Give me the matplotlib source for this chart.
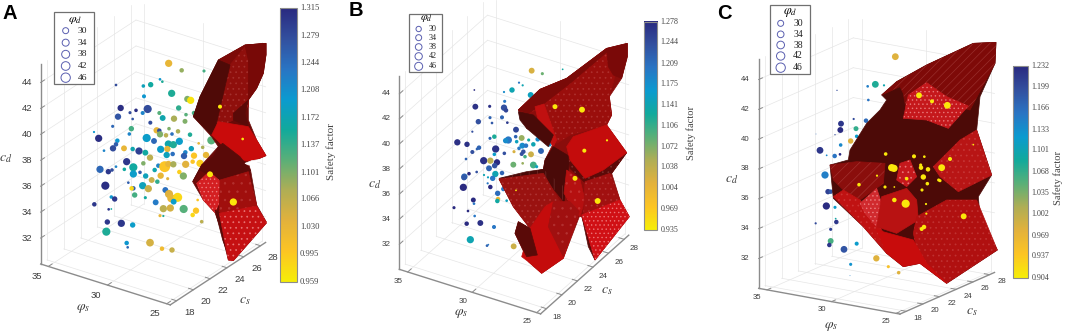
import matplotlib
matplotlib.use("Agg")
import matplotlib.pyplot as plt
from matplotlib import colors
from matplotlib.patches import Polygon, Rectangle
import numpy as np

plt.rcParams['mathtext.fontset'] = 'stix'
plt.rcParams['hatch.linewidth'] = 0.5

# all panel coordinates are in third-of-a-pixel units, y going down
parula_r = colors.LinearSegmentedColormap.from_list('parula_r', [
    '#f6ee08', '#fdc524', '#e3b23c', '#b0ae55', '#5bb078', '#12aa9c',
    '#0b9bd0', '#2a75c4', '#33509f', '#2a2a80'])

z_ticks = [32, 34, 36, 38, 40, 42, 44]
phi_ticks = [35, 30, 25]
cs_ticks = [18, 20, 22, 24, 26, 28]
legend_phi = [30, 34, 38, 42, 46]

# panel A
a_ticks = [1.315, 1.279, 1.244, 1.208, 1.172, 1.137, 1.101, 1.066, 1.030, 0.995, 0.959]
a_x = [506, 545, 612, 348, 480, 487, 452, 430, 515, 432, 562, 572, 362, 408, 443, 428, 390, 354, 536, 478,
       488, 522, 398, 451, 558, 555, 582, 338, 282, 296, 394, 388, 470, 478, 507, 480, 498, 516, 534, 570,
       440, 462, 352, 348, 339, 372, 312, 398, 417, 436, 450, 482, 505, 520, 538, 502, 574, 500, 518, 608,
       596, 556, 552, 582, 618, 634, 380, 400, 430, 400, 420, 437, 464, 475, 494, 505, 520, 557, 578, 600,
       300, 325, 336, 348, 373, 316, 385, 400, 395, 428, 445, 472, 455, 482, 503, 538, 550, 496, 507, 514,
       533, 521, 404, 436, 467, 334, 344, 283, 326, 334, 490, 511, 551, 588, 578, 480, 490, 605, 593, 322,
       364, 398, 319, 380, 383, 450, 486, 516]
a_y = [190, 211, 213, 255, 238, 245, 254, 258, 280, 289, 297, 301, 324, 331, 327, 339, 338, 350, 324, 339,
       354, 356, 357, 368, 344, 364, 339, 379, 396, 415, 386, 402, 391, 392, 386, 403, 406, 402, 394, 404,
       414, 423, 422, 433, 445, 445, 452, 447, 453, 458, 473, 448, 432, 434, 424, 447, 446, 465, 462, 442,
       430, 457, 468, 467, 465, 421, 485, 502, 490, 522, 517, 528, 510, 497, 500, 492, 493, 493, 485, 490,
       508, 515, 510, 500, 508, 557, 548, 565, 565, 557, 566, 545, 540, 527, 536, 516, 528, 570, 582, 595,
       592, 605, 585, 593, 607, 591, 597, 613, 628, 627, 626, 624, 627, 632, 645, 647, 648, 665, 600, 666,
       670, 675, 695, 729, 742, 728, 746, 750]
a_phi = [36, 30, 27, 26, 26, 26, 32, 28, 36, 29, 34, 36, 34, 28, 38, 29, 27, 34, 32, 29,
         33, 34, 26, 29, 28, 31, 30, 27, 25, 36, 32, 28, 34, 30, 28, 34, 30, 28, 30, 30,
         38, 33, 30, 30, 34, 33, 26, 30, 36, 33, 34, 36, 36, 36, 36, 34, 32, 34, 30, 28,
         26, 30, 34, 34, 34, 38, 36, 38, 30, 36, 28, 32, 30, 30, 44, 34, 34, 36, 30, 36,
         36, 32, 28, 26, 28, 38, 26, 30, 30, 36, 36, 30, 33, 34, 27, 30, 36, 33, 38, 38,
         40, 33, 32, 27, 33, 28, 32, 30, 26, 24, 36, 36, 38, 34, 30, 27, 25, 28, 26, 32,
         36, 32, 38, 30, 26, 37, 30, 32]
a_sf = [1.03, 1.09, 1.13, 1.28, 1.20, 1.15, 1.16, 1.18, 1.15, 1.20, 1.10, 0.97, 1.31, 1.31, 1.28, 1.22, 1.28, 1.27, 1.14, 1.12,
        1.17, 1.08, 1.27, 1.28, 1.12, 1.10, 1.13, 1.25, 1.20, 1.31, 1.13, 1.22, 1.03, 1.28, 1.10, 1.10, 1.07, 1.24, 1.08, 1.15,
        1.19, 1.25, 1.20, 1.26, 1.28, 1.03, 1.22, 1.17, 1.29, 1.16, 1.07, 1.19, 1.17, 1.15, 1.19, 1.03, 1.18, 1.18, 1.24, 1.08,
        1.03, 1.22, 1.26, 1.00, 1.03, 1.12, 1.30, 1.16, 1.10, 1.19, 1.26, 1.18, 1.17, 1.22, 1.00, 1.03, 1.08, 1.04, 1.00, 0.99,
        1.25, 1.30, 1.28, 1.22, 1.16, 1.31, 1.26, 1.26, 0.98, 1.18, 1.06, 1.14, 1.06, 1.03, 1.04, 0.99, 1.10, 1.24, 1.04, 1.03,
        0.98, 1.19, 1.13, 1.16, 1.23, 1.20, 1.30, 1.30, 1.30, 1.16, 1.07, 1.05, 1.12, 1.00, 0.98, 1.03, 1.15, 1.07, 1.00, 1.30,
        1.30, 1.19, 1.15, 1.20, 1.25, 1.05, 1.02, 1.06]
a_top_x = [660, 728, 630, 700]
a_top_y = [320, 417, 523, 606]
a_top_phi = [29, 26, 33, 36]
a_surf = [
    [(655, 180), (735, 135), (798, 130), (798, 165), (790, 220), (770, 265), (745, 300), (745, 360), (770, 420), (798, 467), (745, 490), (752, 512), (770, 615), (800, 668), (700, 782), (685, 780), (660, 680), (645, 638), (610, 600), (578, 545), (605, 495), (655, 440), (635, 410), (580, 350), (600, 290), (640, 210)],
    [(655, 180), (735, 135), (798, 130), (798, 165), (745, 290), (690, 200)],
    [(690, 195), (735, 140), (750, 190), (745, 320), (700, 360), (650, 385), (632, 408), (640, 380)],
    [(735, 135), (798, 130), (798, 165), (790, 220), (770, 265), (745, 300), (745, 180)],
    [(655, 180), (690, 195), (640, 410), (580, 350), (600, 290), (640, 210)],
    [(745, 300), (735, 340), (745, 380), (700, 360), (700, 340)],
    [(635, 405), (655, 365), (745, 380), (770, 420), (798, 467), (770, 478), (740, 483), (700, 470), (672, 440)],
    [(578, 545), (605, 495), (640, 470), (655, 440), (668, 430), (720, 470), (752, 512), (660, 545), (600, 510)],
    [(590, 550), (628, 515), (662, 545), (657, 610), (645, 638), (610, 600)],
    [(660, 540), (745, 515), (770, 615), (685, 660), (658, 640)],
    [(645, 630), (660, 640), (690, 780), (668, 720)],
    [(658, 640), (770, 618), (800, 668), (700, 782), (685, 780)],
    [(735, 490), (755, 482), (782, 478), (762, 492), (745, 495)],
]
a_surf_col = ['#6a0a08', '#7c0a08', '#8f0f0c', '#780907', '#4f0a07', '#5a0a08', '#c90b0b', '#5a0a08', '#d41f22', '#a00f0d', '#5a0a08', '#c51012', '#ffffff']
a_surf_hatch = [None, None, '...', None, None, None, None, None, '....', '..', None, '...', None]

# panel B
b_ticks = [1.278, 1.244, 1.209, 1.175, 1.141, 1.106, 1.072, 1.038, 1.004, 0.969, 0.935]
b_x = [575, 607, 668, 537, 548, 516, 492, 403, 494, 572, 406, 449, 492, 498, 486, 450, 415, 456, 502, 397,
       528, 548, 527, 463, 450, 505, 497, 530, 545, 566, 580, 593, 628, 352, 381, 467, 463, 417, 411, 397,
       493, 522, 537, 547, 558, 573, 550, 603, 545, 555, 378, 431, 451, 471, 464, 447, 520, 548, 580, 590,
       410, 387, 373, 372, 466, 458, 432, 444, 486, 487, 443, 451, 370, 490, 473, 400, 402, 474, 472, 500,
       342, 384, 404, 380, 421, 462, 391, 441, 445, 521]
b_y = [212, 221, 208, 248, 256, 270, 276, 270, 304, 285, 320, 319, 323, 331, 352, 353, 365, 369, 368, 395,
       389, 352, 410, 410, 415, 420, 422, 425, 414, 420, 433, 418, 433, 427, 433, 447, 463, 443, 447, 456,
       460, 455, 445, 437, 437, 463, 455, 453, 462, 470, 477, 482, 482, 487, 497, 505, 494, 490, 495, 500,
       516, 521, 530, 533, 522, 535, 525, 532, 519, 540, 550, 561, 562, 567, 580, 600, 611, 597, 603, 602,
       623, 633, 648, 671, 669, 681, 719, 737, 734, 739]
b_phi = [33, 27, 24, 25, 25, 32, 25, 24, 27, 33, 33, 27, 34, 30, 29, 27, 32, 26, 26, 25,
         33, 34, 28, 30, 27, 36, 32, 28, 33, 27, 30, 30, 30, 34, 32, 36, 28, 30, 26, 29,
         28, 27, 28, 33, 30, 33, 30, 33, 29, 28, 26, 36, 34, 34, 32, 33, 33, 26, 35, 27,
         26, 28, 34, 32, 34, 32, 25, 25, 30, 27, 25, 30, 36, 30, 32, 31, 26, 30, 30, 26,
         27, 26, 26, 30, 33, 29, 36, 26, 24, 33]
b_sf = [1.02, 1.08, 1.13, 1.20, 1.14, 1.14, 1.18, 1.28, 1.20, 1.15, 1.27, 1.27, 1.24, 1.25, 1.22, 1.22, 1.24, 1.23, 1.26, 1.24,
        1.25, 1.16, 1.22, 1.12, 1.22, 1.20, 1.18, 1.15, 1.06, 1.13, 1.14, 1.18, 1.17, 1.27, 1.27, 1.27, 1.16, 1.22, 1.22, 1.24,
        1.24, 1.02, 1.20, 1.18, 1.20, 1.03, 1.24, 1.22, 1.24, 1.10, 1.22, 1.27, 1.04, 1.28, 1.24, 1.22, 1.08, 1.06, 1.10, 1.15,
        1.24, 1.28, 1.22, 1.23, 1.14, 1.20, 1.14, 1.15, 1.22, 1.25, 1.20, 1.28, 1.30, 1.20, 1.21, 1.30, 1.20, 1.00, 1.13, 1.15,
        1.31, 1.28, 1.20, 1.30, 1.27, 1.20, 1.14, 1.22, 1.20, 1.03]
b_top_x = [645, 726, 801, 733, 705, 773, 528]
b_top_y = [320, 329, 421, 452, 535, 603, 571]
b_top_phi = [31, 33, 25, 29, 31, 33, 24]
b_surf = [
    [(535, 330), (600, 268), (680, 235), (800, 145), (862, 130), (862, 170), (845, 235), (808, 290), (815, 345), (800, 375), (860, 458), (815, 520), (840, 600), (868, 650), (765, 780), (725, 650), (718, 650), (670, 775), (605, 820), (565, 785), (525, 700), (535, 665), (570, 685), (520, 620), (477, 537), (610, 508), (615, 480), (640, 430), (560, 385)],
    [(535, 330), (600, 268), (680, 235), (800, 145), (835, 190), (808, 290), (815, 345), (800, 375), (690, 405), (650, 430), (610, 320), (565, 340)],
    [(535, 330), (600, 268), (680, 235), (800, 145), (802, 155), (690, 250), (610, 312), (565, 340)],
    [(800, 145), (862, 130), (862, 170), (845, 235), (820, 225), (805, 200)],
    [(585, 320), (612, 312), (650, 420), (640, 440), (600, 385)],
    [(535, 335), (580, 345), (640, 405), (625, 440), (560, 385), (540, 360)],
    [(640, 440), (690, 470), (672, 605), (610, 510), (615, 480)],
    [(685, 470), (735, 535), (860, 458), (815, 520), (735, 548), (690, 505)],
    [(680, 440), (700, 410), (800, 375), (860, 458), (790, 510), (735, 535), (690, 480)],
    [(477, 535), (560, 515), (610, 508), (672, 560), (672, 605), (610, 530)],
    [(477, 537), (610, 520), (660, 605), (615, 620), (570, 685), (520, 620)],
    [(680, 510), (720, 540), (735, 600), (720, 650), (690, 610), (672, 580)],
    [(735, 545), (810, 520), (840, 600), (730, 650)],
    [(725, 645), (765, 780), (745, 740)],
    [(725, 645), (840, 600), (868, 650), (765, 780)],
    [(570, 685), (615, 620), (640, 605), (718, 635), (670, 775), (605, 820), (565, 785), (545, 770)],
    [(535, 665), (570, 685), (592, 765), (560, 770), (525, 700)],
    [(640, 605), (690, 605), (718, 635), (670, 770), (625, 680)],
]
b_surf_col = ['#8a0d0b', '#9a0e0c', '#7a0a08', '#7a0908', '#c01010', '#4a0a08', '#4a0a08', '#5c0a08', '#c40c0c', '#4a0a08', '#9a1210',
              '#b51010', '#a11010', '#5a0a08', '#d01015', '#c40c0c', '#5a0a08', '#a01010']
b_surf_hatch = [None, '...', None, None, None, None, None, '...', None, '||', '...', '..', '...', None, '....', None, None, '..']

# panel C
c_ticks = [1.232, 1.199, 1.166, 1.133, 1.101, 1.068, 1.035, 1.002, 0.969, 0.937, 0.904]
c_x = [586, 526, 503, 411, 505, 552, 461, 498, 423, 421, 468, 470, 348, 405, 452, 422, 360, 380, 404, 420,
       375, 384, 392, 379, 405, 407, 409, 347, 392, 392, 388, 432, 470, 529, 565, 452, 596, 450]
c_y = [170, 253, 259, 271, 300, 256, 357, 362, 371, 390, 386, 409, 402, 404, 423, 435, 451, 466, 468, 463,
       525, 575, 575, 618, 622, 656, 666, 670, 688, 723, 735, 748, 731, 775, 800, 793, 818, 827]
c_phi = [35, 35, 26, 23, 26, 25, 25, 30, 33, 33, 31, 28, 22, 23, 32, 28, 35, 24, 30, 26,
         36, 32, 30, 36, 27, 24, 30, 25, 27, 33, 30, 35, 29, 34, 27, 27, 28, 22]
c_sf = [0.98, 1.08, 1.15, 1.20, 1.16, 1.10, 1.20, 1.17, 1.22, 1.23, 1.07, 1.12, 1.17, 1.20, 0.98, 1.14, 1.22, 1.14, 1.16, 1.23,
        1.15, 1.21, 1.19, 1.23, 1.12, 1.09, 1.22, 1.20, 1.21, 1.06, 1.22, 1.19, 1.12, 0.98, 0.95, 1.13, 0.98, 1.15]
c_top_x = [657, 696, 742, 820, 557, 642, 673, 750, 725, 662, 663, 684, 575, 582, 531, 620, 670, 716, 720, 682, 477, 555, 583, 666, 583, 617, 678, 679, 791, 672, 665]
c_top_y = [286, 304, 316, 434, 462, 469, 470, 477, 503, 495, 503, 508, 503, 505, 527, 536, 531, 540, 542, 551, 554, 561, 561, 570, 600, 611, 612, 641, 649, 681, 687]
c_top_phi = [33, 29, 35, 24, 28, 29, 26, 29, 35, 27, 30, 30, 36, 36, 25, 28, 32, 27, 27, 28, 28, 27, 24, 27, 30, 38, 25, 25, 33, 30, 29]
c_surf = [
    [(545, 285), (590, 245), (680, 195), (820, 130), (888, 127), (885, 190), (840, 290), (830, 390), (875, 525), (835, 590), (840, 650), (892, 750), (740, 850), (660, 790), (610, 800), (560, 760), (490, 680), (400, 595), (390, 495), (445, 480), (450, 450), (500, 370), (540, 330), (560, 300)],
    [(545, 285), (590, 245), (680, 195), (820, 130), (888, 127), (885, 190), (810, 330), (740, 310), (620, 340), (610, 280), (600, 260)],
    [(625, 285), (680, 248), (740, 290), (805, 318), (745, 385), (680, 360), (610, 355)],
    [(700, 500), (780, 420), (830, 390), (875, 525), (775, 575), (720, 530)],
    [(390, 495), (470, 485), (555, 490), (550, 550), (480, 600), (430, 570), (400, 540)],
    [(400, 590), (430, 570), (480, 600), (545, 690), (590, 760), (560, 760), (490, 680)],
    [(480, 610), (530, 565), (555, 640), (530, 680), (495, 640)],
    [(545, 590), (620, 565), (650, 600), (655, 660), (590, 700), (530, 680)],
    [(600, 490), (630, 480), (650, 530), (620, 560), (590, 540)],
    [(650, 650), (740, 600), (830, 600), (892, 750), (740, 850), (660, 790), (640, 700)],
    [(530, 690), (640, 720), (680, 790), (740, 850), (660, 790), (610, 800), (560, 760)],
]
c_surf_col = ['#4c0a07', '#7e0a08', '#c5181c', '#b81515', '#8a0e0c', '#c01212', '#d02a2e', '#b81212', '#c5181c', '#b01010', '#c80c0c']
c_surf_hatch = [None, '////', '....', '...', '///', '...', '....', None, '...', '...', None]


def lighter(c):
    rgb = np.array(colors.to_rgb(c))
    mix = 0.6 if rgb[0] > 0.77 else 0.2
    return tuple(rgb * (1 - mix) + mix * np.array([1, 0.72, 0.72]))


def draw_panel(left, width, letter, letter_pos, axis, ticks, x, y, phi, sf, top_x, top_y, top_phi,
               surf, surf_col, surf_hatch, box, ring_x, ring_y, ring_r, lab_x, title_y, leg_fs,
               cbar, cbar_lab_x, cbar_fs, lab_pos, tick_pos):
    ax = fig.add_axes([left / 1065, 0, width / 1065, 1])
    ax.set_xlim(0, width * 3)
    ax.set_ylim(999, 0)
    ax.axis('off')

    # projection of (phi_s, c_s, c_d) on the panel
    ox, oy, p, c, kz = axis
    def proj(ph, cs, z):
        return (ox + (35.65 - ph) * p[0] + (cs - 17.25) * c[0],
                oy + (35.65 - ph) * p[1] + (cs - 17.25) * c[1] - (z - 30.0) * kz)

    # grid on the floor and the two back walls
    gc = '#e6e6e6'
    for cs in cs_ticks:
        ax.plot(*zip(proj(35.65, cs, 30), proj(24.7, cs, 30)), color=gc, lw=0.5)
        ax.plot(*zip(proj(35.65, cs, 30), proj(35.65, cs, 45.4)), color=gc, lw=0.5)
    for ph in phi_ticks:
        ax.plot(*zip(proj(ph, 17.25, 30), proj(ph, 28.6, 30)), color=gc, lw=0.5)
        ax.plot(*zip(proj(ph, 28.6, 30), proj(ph, 28.6, 45.4)), color=gc, lw=0.5)
    for z in z_ticks:
        ax.plot(*zip(proj(35.65, 17.25, z), proj(35.65, 28.6, z)), color=gc, lw=0.5)
        ax.plot(*zip(proj(35.65, 28.6, z), proj(24.7, 28.6, z)), color=gc, lw=0.5)

    # axis lines
    ac = '#8c8c8c'
    ax.plot(*zip(proj(35.65, 17.25, 30), proj(35.65, 17.25, 45.4)), color=ac, lw=1.0)
    ax.plot(*zip(proj(35.65, 17.25, 30), proj(24.7, 17.25, 30)), color=ac, lw=1.0)
    ax.plot(*zip(proj(24.7, 17.25, 30), proj(24.7, 28.6, 30)), color=ac, lw=1.0)

    tc = '#3c3c3c'
    for z in z_ticks:
        ax.plot(*zip(proj(35.65, 17.25, z), proj(35.65, 17.7, z)), color=ac, lw=0.7)
        px, py = proj(35.65, 17.25, z)
        ax.text(px + tick_pos[0][0], py + tick_pos[0][1], str(z), ha='center', va='center',
                fontsize=tick_pos[3], color=tc, family='Liberation Sans')
    for ph in phi_ticks:
        ax.plot(*zip(proj(ph, 17.25, 30), proj(ph, 17.7, 30)), color=ac, lw=0.7)
        px, py = proj(ph, 17.25, 30)
        ax.text(px + tick_pos[1][0], py + tick_pos[1][1], str(ph), ha='center', va='center',
                fontsize=tick_pos[3], color=tc, family='Liberation Sans')
    for cs in cs_ticks:
        ax.plot(*zip(proj(24.7, cs, 30), proj(25.1, cs, 30)), color=ac, lw=0.7)
        px, py = proj(24.7, cs, 30)
        ax.text(px + tick_pos[2][0], py + tick_pos[2][1], str(cs), ha='center', va='center',
                fontsize=tick_pos[3], color=tc, family='Liberation Sans')
    for txt, pos in zip([r'$c_d$', r'$\varphi_s$', r'$c_s$'], lab_pos):
        ax.text(pos[0], pos[1], txt, ha='center', va='center', fontsize=10, color=tc)

    norm = colors.Normalize(ticks[-1], ticks[0])
    sizes = lambda v: (1.25 * 2 * (0.55 * (np.array(v) - 22) + 1) / 3 * 0.72) ** 2
    ax.scatter(x, y, s=sizes(phi), c=sf, cmap=parula_r, norm=norm, lw=0, zorder=3)

    for verts, col, h in zip(surf, surf_col, surf_hatch):
        ax.add_patch(Polygon(verts, closed=True, facecolor=col, edgecolor=col, lw=0.5, zorder=4))
        if h:
            ax.add_patch(Polygon(verts, closed=True, facecolor='none', edgecolor=lighter(col),
                                 hatch=h, lw=0, zorder=4))
    ax.scatter(top_x, top_y, s=sizes(top_phi), color='#fbe80a', lw=0, zorder=5)

    # phi_d legend
    ax.add_patch(Rectangle((box[0], box[1]), box[2] - box[0], box[3] - box[1], facecolor='white',
                           edgecolor='#707070', lw=0.9, zorder=6))
    ax.text((box[0] + box[2]) / 2 + 2, title_y, r'$\varphi_d$', ha='center', va='center',
            fontsize=leg_fs + 2, zorder=7)
    for v, ry, rr in zip(legend_phi, ring_y, ring_r):
        ax.scatter([ring_x], [ry], s=(2 * rr / 3 * 0.72) ** 2, facecolor='none', edgecolor='#5a5fb0',
                   lw=0.7, zorder=7)
        ax.text(lab_x, ry, str(v), ha='center', va='center', fontsize=leg_fs,
                family='Liberation Serif', color='#222222', zorder=7)

    # colour bar
    grad = np.linspace(ticks[0], ticks[-1], 256).reshape(-1, 1)
    ax.imshow(grad, extent=[cbar[0], cbar[2], cbar[3], cbar[1]], cmap=parula_r, norm=norm,
              aspect='auto', zorder=3)
    ax.add_patch(Rectangle((cbar[0], cbar[1]), cbar[2] - cbar[0], cbar[3] - cbar[1], facecolor='none',
                           edgecolor='#8c8c8c', lw=0.8, zorder=4))
    ax.set_xlim(0, width * 3)
    ax.set_ylim(999, 0)
    for t in ticks:
        ty = cbar[3] - (t - ticks[-1]) / (ticks[0] - ticks[-1]) * (cbar[3] - cbar[1])
        ax.text(cbar[2] + 10, ty, f'{t:.3f}', ha='left', va='center', fontsize=cbar_fs,
                family='Liberation Serif', color='#444444')
    ax.text(cbar_lab_x, (cbar[1] + cbar[3]) / 2 + 20, 'Safety factor', rotation=90, ha='center', va='center',
            fontsize=cbar_fs + 1.8, family='Liberation Serif', color='#444444')

    ax.text(letter_pos[0], letter_pos[1], letter, ha='center', va='center', fontsize=14.5,
            fontweight='bold', family='Liberation Sans', color='black')


fig = plt.figure(figsize=(10.65, 3.33), dpi=100)

draw_panel(0, 340, 'A', (30, 40), (122, 792, (35.5, 11.2), (25.2, -16.5), 38.9), a_ticks,
           a_x, a_y, a_phi, a_sf, a_top_x, a_top_y, a_top_phi, a_surf, a_surf_col, a_surf_hatch,
           (163, 37, 283, 253), 197, [92, 128, 163, 198, 233], [9, 10.5, 12, 13, 14], 248, 58, 6.8,
           (840, 24, 890, 845), 993, 6.2, [(18, 478), (250, 925), (735, 900)],
           [(-42, 0), (-36, 30), (38, 34), 6.8])
draw_panel(340, 360, 'B', (48, 33), (178, 808, (38.7, 12.2), (23.3, -20.8), 37.6), b_ticks,
           b_x, b_y, b_phi, b_sf, b_top_x, b_top_y, b_top_phi, b_surf, b_surf_col, b_surf_hatch,
           (207, 41, 305, 216), 236, [87, 113, 141, 169, 199], [8, 9, 10, 11, 12], 278, 55, 5.8,
           (912, 65, 952, 690), 1052, 5.8, [(105, 555), (362, 940), (800, 870)],
           [(-38, 0), (-28, 28), (31, 27), 5.8])
draw_panel(700, 365, 'C', (73, 40), (176, 865, (38.7, 7.05), (25, -11), 44.75), c_ticks,
           c_x, c_y, c_phi, c_sf, c_top_x, c_top_y, c_top_phi, c_surf, c_surf_col, c_surf_hatch,
           (209, 16, 329, 223), 242, [70, 103, 135, 168, 203], [9, 10, 11.5, 12.5, 14], 294, 37, 7.0,
           (940, 197, 985, 833), 1075, 5.8, [(95, 540), (393, 977), (815, 933)],
           [(-40, 0), (-30, 23), (36, 21), 5.6])

fig.savefig('out.png', dpi=100)
